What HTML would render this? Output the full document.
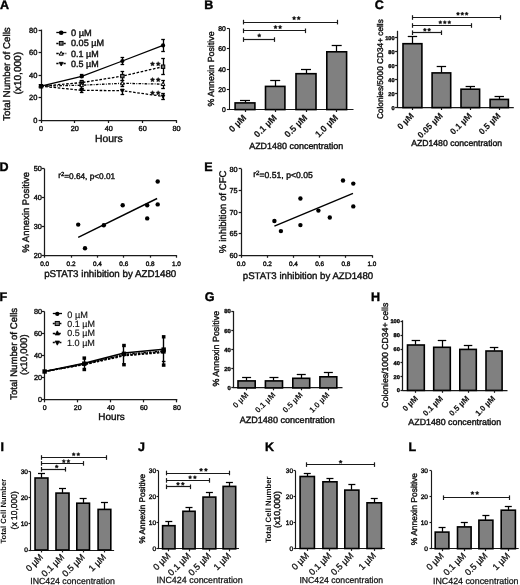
<!DOCTYPE html>
<html><head><meta charset="utf-8"><style>
html,body{margin:0;padding:0;background:#fff;}
svg{display:block;font-family:"Liberation Sans", sans-serif;filter:grayscale(1);text-rendering:geometricPrecision;}
</style></head><body>
<svg width="520" height="585" viewBox="0 0 520 585">
<rect width="520" height="585" fill="#fff"/>
<text font-size="12.500" transform="translate(-0.04,8.60)" font-weight="bold" fill="#000" stroke="#000" stroke-width="0.4">A</text>
<line x1="41.50" y1="29.60" x2="41.50" y2="121.12" stroke="#1a1a1a" stroke-width="1.25" stroke-linecap="butt"/>
<line x1="38.60" y1="120.50" x2="41.50" y2="120.50" stroke="#1a1a1a" stroke-width="1.25" stroke-linecap="butt"/>
<line x1="38.60" y1="97.50" x2="41.50" y2="97.50" stroke="#1a1a1a" stroke-width="1.25" stroke-linecap="butt"/>
<line x1="38.60" y1="75.50" x2="41.50" y2="75.50" stroke="#1a1a1a" stroke-width="1.25" stroke-linecap="butt"/>
<line x1="38.60" y1="52.50" x2="41.50" y2="52.50" stroke="#1a1a1a" stroke-width="1.25" stroke-linecap="butt"/>
<line x1="38.60" y1="30.50" x2="41.50" y2="30.50" stroke="#1a1a1a" stroke-width="1.25" stroke-linecap="butt"/>
<line x1="41.00" y1="120.50" x2="176.80" y2="120.50" stroke="#1a1a1a" stroke-width="1.25" stroke-linecap="butt"/>
<text font-size="7.500" transform="translate(33.24,122.80) scale(1.000,1)" fill="#111" stroke="#111" stroke-width="0.4">0</text>
<text font-size="7.500" transform="translate(29.08,100.30) scale(1.000,1)" fill="#111" stroke="#111" stroke-width="0.4">20</text>
<text font-size="7.500" transform="translate(29.08,77.80) scale(1.000,1)" fill="#111" stroke="#111" stroke-width="0.4">40</text>
<text font-size="7.500" transform="translate(29.08,55.30) scale(1.000,1)" fill="#111" stroke="#111" stroke-width="0.4">60</text>
<text font-size="7.500" transform="translate(29.08,32.80) scale(1.000,1)" fill="#111" stroke="#111" stroke-width="0.4">80</text>
<line x1="41.50" y1="120.20" x2="41.50" y2="123.00" stroke="#1a1a1a" stroke-width="1.25" stroke-linecap="butt"/>
<text font-size="7.300" transform="translate(38.97,130.80) scale(1.000,1)" fill="#111" stroke="#111" stroke-width="0.4">0</text>
<line x1="74.50" y1="120.20" x2="74.50" y2="123.00" stroke="#1a1a1a" stroke-width="1.25" stroke-linecap="butt"/>
<text font-size="7.300" transform="translate(70.81,130.80) scale(1.000,1)" fill="#111" stroke="#111" stroke-width="0.4">20</text>
<line x1="108.50" y1="120.20" x2="108.50" y2="123.00" stroke="#1a1a1a" stroke-width="1.25" stroke-linecap="butt"/>
<text font-size="7.300" transform="translate(104.80,130.80) scale(1.000,1)" fill="#111" stroke="#111" stroke-width="0.4">40</text>
<line x1="142.50" y1="120.20" x2="142.50" y2="123.00" stroke="#1a1a1a" stroke-width="1.25" stroke-linecap="butt"/>
<text font-size="7.300" transform="translate(138.61,130.80) scale(1.000,1)" fill="#111" stroke="#111" stroke-width="0.4">60</text>
<line x1="176.50" y1="120.20" x2="176.50" y2="123.00" stroke="#1a1a1a" stroke-width="1.25" stroke-linecap="butt"/>
<text font-size="7.300" transform="translate(172.53,130.80) scale(1.000,1)" fill="#111" stroke="#111" stroke-width="0.4">80</text>
<text font-size="10.372" transform="translate(94.97,141.68) scale(1.0000,1)" fill="#111" stroke="#111" stroke-width="0.4">Hours</text>
<text font-size="9.795" transform="translate(10.05,120.80) rotate(-90) scale(1.0000,1)" fill="#111" stroke="#111" stroke-width="0.4">Total Number of Cells</text>
<text font-size="10.098" transform="translate(20.70,94.51) rotate(-90) scale(1.0000,1)" fill="#111" stroke="#111" stroke-width="0.4">(x10,000)</text>
<line x1="56.30" y1="32.50" x2="66.40" y2="32.50" stroke="#000" stroke-width="1.3" stroke-linecap="butt"/>
<circle cx="61.20" cy="32.80" r="2.3100000000000005" fill="#000" stroke="none" stroke-width="1"/>
<text font-size="9.245" transform="translate(71.03,36.04) scale(1.0000,1)" fill="#111" stroke="#111" stroke-width="0.4">0 µM</text>
<line x1="56.30" y1="43.50" x2="66.40" y2="43.50" stroke="#000" stroke-width="1.3" stroke-linecap="butt" stroke-dasharray="2.2,1.4"/>
<rect x="59.35" y="41.45" width="3.70" height="3.70" fill="#777" stroke="#000" stroke-width="1.0"/>
<text font-size="9.088" transform="translate(71.04,46.48) scale(1.0000,1)" fill="#111" stroke="#111" stroke-width="0.4">0.05 µM</text>
<line x1="56.30" y1="53.50" x2="66.40" y2="53.50" stroke="#000" stroke-width="1.3" stroke-linecap="butt" stroke-dasharray="2.4,1.2,0.8,1.2"/>
<polygon points="61.20,51.47 63.23,55.17 59.17,55.17" fill="#fff" stroke="#000" stroke-width="1.0"/>
<text font-size="8.968" transform="translate(71.04,56.74) scale(1.0000,1)" fill="#111" stroke="#111" stroke-width="0.4">0.1 µM</text>
<line x1="56.30" y1="63.50" x2="66.40" y2="63.50" stroke="#000" stroke-width="1.3" stroke-linecap="butt" stroke-dasharray="2.2,1.4"/>
<polygon points="61.20,66.03 63.23,62.33 59.17,62.33" fill="#000" stroke="#000" stroke-width="0.8"/>
<text font-size="8.968" transform="translate(71.04,67.04) scale(1.0000,1)" fill="#111" stroke="#111" stroke-width="0.4">0.5 µM</text>
<polyline points="41.00,86.20 81.68,76.30 122.36,61.00 163.04,45.40" fill="none" stroke="#000" stroke-width="1.3"/>
<polyline points="41.00,86.20 81.68,82.60 122.36,76.10 163.04,66.70" fill="none" stroke="#000" stroke-width="1.3" stroke-dasharray="2.6,1.6"/>
<polyline points="41.00,86.20 81.68,85.20 122.36,83.30 163.04,84.10" fill="none" stroke="#000" stroke-width="1.3" stroke-dasharray="2.6,1.3,0.9,1.3"/>
<polyline points="41.00,86.20 81.68,90.30 122.36,90.70 163.04,96.40" fill="none" stroke="#000" stroke-width="1.3" stroke-dasharray="2.6,1.6"/>
<circle cx="41.00" cy="86.20" r="2.1" fill="#000" stroke="none" stroke-width="1"/>
<line x1="81.50" y1="74.80" x2="81.50" y2="77.80" stroke="#000" stroke-width="1.3" stroke-linecap="butt"/>
<line x1="79.88" y1="74.50" x2="83.48" y2="74.50" stroke="#000" stroke-width="1.3" stroke-linecap="butt"/>
<line x1="79.88" y1="77.50" x2="83.48" y2="77.50" stroke="#000" stroke-width="1.3" stroke-linecap="butt"/>
<circle cx="81.68" cy="76.30" r="2.1" fill="#000" stroke="none" stroke-width="1"/>
<line x1="122.50" y1="57.50" x2="122.50" y2="64.40" stroke="#000" stroke-width="1.3" stroke-linecap="butt"/>
<line x1="120.56" y1="57.50" x2="124.16" y2="57.50" stroke="#000" stroke-width="1.3" stroke-linecap="butt"/>
<line x1="120.56" y1="64.50" x2="124.16" y2="64.50" stroke="#000" stroke-width="1.3" stroke-linecap="butt"/>
<circle cx="122.36" cy="61.00" r="2.1" fill="#000" stroke="none" stroke-width="1"/>
<line x1="163.50" y1="39.60" x2="163.50" y2="51.90" stroke="#000" stroke-width="1.3" stroke-linecap="butt"/>
<line x1="161.24" y1="39.50" x2="164.84" y2="39.50" stroke="#000" stroke-width="1.3" stroke-linecap="butt"/>
<line x1="161.24" y1="51.50" x2="164.84" y2="51.50" stroke="#000" stroke-width="1.3" stroke-linecap="butt"/>
<circle cx="163.04" cy="45.40" r="2.1" fill="#000" stroke="none" stroke-width="1"/>
<rect x="39.30" y="84.50" width="3.40" height="3.40" fill="#777" stroke="#000" stroke-width="1.0"/>
<line x1="81.50" y1="80.80" x2="81.50" y2="84.60" stroke="#000" stroke-width="1.3" stroke-linecap="butt"/>
<line x1="79.88" y1="80.50" x2="83.48" y2="80.50" stroke="#000" stroke-width="1.3" stroke-linecap="butt"/>
<line x1="79.88" y1="84.50" x2="83.48" y2="84.50" stroke="#000" stroke-width="1.3" stroke-linecap="butt"/>
<rect x="79.98" y="80.90" width="3.40" height="3.40" fill="#777" stroke="#000" stroke-width="1.0"/>
<line x1="122.50" y1="71.90" x2="122.50" y2="80.20" stroke="#000" stroke-width="1.3" stroke-linecap="butt"/>
<line x1="120.56" y1="71.50" x2="124.16" y2="71.50" stroke="#000" stroke-width="1.3" stroke-linecap="butt"/>
<line x1="120.56" y1="80.50" x2="124.16" y2="80.50" stroke="#000" stroke-width="1.3" stroke-linecap="butt"/>
<rect x="120.66" y="74.40" width="3.40" height="3.40" fill="#777" stroke="#000" stroke-width="1.0"/>
<line x1="163.50" y1="58.80" x2="163.50" y2="74.50" stroke="#000" stroke-width="1.3" stroke-linecap="butt"/>
<line x1="161.24" y1="58.50" x2="164.84" y2="58.50" stroke="#000" stroke-width="1.3" stroke-linecap="butt"/>
<line x1="161.24" y1="74.50" x2="164.84" y2="74.50" stroke="#000" stroke-width="1.3" stroke-linecap="butt"/>
<rect x="161.34" y="65.00" width="3.40" height="3.40" fill="#777" stroke="#000" stroke-width="1.0"/>
<polygon points="41.00,84.25 42.87,87.64 39.13,87.64" fill="#fff" stroke="#000" stroke-width="1.0"/>
<line x1="81.50" y1="82.50" x2="81.50" y2="88.00" stroke="#000" stroke-width="1.3" stroke-linecap="butt"/>
<line x1="79.88" y1="82.50" x2="83.48" y2="82.50" stroke="#000" stroke-width="1.3" stroke-linecap="butt"/>
<line x1="79.88" y1="88.50" x2="83.48" y2="88.50" stroke="#000" stroke-width="1.3" stroke-linecap="butt"/>
<polygon points="81.68,83.25 83.55,86.64 79.81,86.64" fill="#fff" stroke="#000" stroke-width="1.0"/>
<line x1="122.50" y1="80.50" x2="122.50" y2="86.50" stroke="#000" stroke-width="1.3" stroke-linecap="butt"/>
<line x1="120.56" y1="80.50" x2="124.16" y2="80.50" stroke="#000" stroke-width="1.3" stroke-linecap="butt"/>
<line x1="120.56" y1="86.50" x2="124.16" y2="86.50" stroke="#000" stroke-width="1.3" stroke-linecap="butt"/>
<polygon points="122.36,81.34 124.23,84.74 120.49,84.74" fill="#fff" stroke="#000" stroke-width="1.0"/>
<line x1="163.50" y1="80.40" x2="163.50" y2="88.60" stroke="#000" stroke-width="1.3" stroke-linecap="butt"/>
<line x1="161.24" y1="80.50" x2="164.84" y2="80.50" stroke="#000" stroke-width="1.3" stroke-linecap="butt"/>
<line x1="161.24" y1="88.50" x2="164.84" y2="88.50" stroke="#000" stroke-width="1.3" stroke-linecap="butt"/>
<polygon points="163.04,82.14 164.91,85.54 161.17,85.54" fill="#fff" stroke="#000" stroke-width="1.0"/>
<polygon points="41.00,88.16 42.87,84.76 39.13,84.76" fill="#000" stroke="#000" stroke-width="0.8"/>
<line x1="81.50" y1="88.50" x2="81.50" y2="92.40" stroke="#000" stroke-width="1.3" stroke-linecap="butt"/>
<line x1="79.88" y1="88.50" x2="83.48" y2="88.50" stroke="#000" stroke-width="1.3" stroke-linecap="butt"/>
<line x1="79.88" y1="92.50" x2="83.48" y2="92.50" stroke="#000" stroke-width="1.3" stroke-linecap="butt"/>
<polygon points="81.68,92.25 83.55,88.86 79.81,88.86" fill="#000" stroke="#000" stroke-width="0.8"/>
<line x1="122.50" y1="89.00" x2="122.50" y2="94.40" stroke="#000" stroke-width="1.3" stroke-linecap="butt"/>
<line x1="120.56" y1="89.50" x2="124.16" y2="89.50" stroke="#000" stroke-width="1.3" stroke-linecap="butt"/>
<line x1="120.56" y1="94.50" x2="124.16" y2="94.50" stroke="#000" stroke-width="1.3" stroke-linecap="butt"/>
<polygon points="122.36,92.66 124.23,89.26 120.49,89.26" fill="#000" stroke="#000" stroke-width="0.8"/>
<line x1="163.50" y1="93.70" x2="163.50" y2="99.90" stroke="#000" stroke-width="1.3" stroke-linecap="butt"/>
<line x1="161.24" y1="93.50" x2="164.84" y2="93.50" stroke="#000" stroke-width="1.3" stroke-linecap="butt"/>
<line x1="161.24" y1="99.50" x2="164.84" y2="99.50" stroke="#000" stroke-width="1.3" stroke-linecap="butt"/>
<polygon points="163.04,98.36 164.91,94.96 161.17,94.96" fill="#000" stroke="#000" stroke-width="0.8"/>
<polygon points="152.50,61.63 153.24,62.91 154.69,63.22 153.70,64.32 153.85,65.79 152.50,65.20 151.15,65.79 151.30,64.32 150.31,63.22 151.76,62.91" fill="#111" stroke="#111" stroke-width="0.45"/>
<polygon points="158.20,61.63 158.94,62.91 160.39,63.22 159.40,64.32 159.55,65.79 158.20,65.20 156.85,65.79 157.00,64.32 156.01,63.22 157.46,62.91" fill="#111" stroke="#111" stroke-width="0.45"/>
<polygon points="152.50,77.53 153.24,78.81 154.69,79.12 153.70,80.22 153.85,81.69 152.50,81.09 151.15,81.69 151.30,80.22 150.31,79.12 151.76,78.81" fill="#111" stroke="#111" stroke-width="0.45"/>
<polygon points="158.20,77.53 158.94,78.81 160.39,79.12 159.40,80.22 159.55,81.69 158.20,81.09 156.85,81.69 157.00,80.22 156.01,79.12 157.46,78.81" fill="#111" stroke="#111" stroke-width="0.45"/>
<polygon points="152.50,90.63 153.24,91.91 154.69,92.22 153.70,93.32 153.85,94.79 152.50,94.20 151.15,94.79 151.30,93.32 150.31,92.22 151.76,91.91" fill="#111" stroke="#111" stroke-width="0.45"/>
<polygon points="158.20,90.63 158.94,91.91 160.39,92.22 159.40,93.32 159.55,94.79 158.20,94.20 156.85,94.79 157.00,93.32 156.01,92.22 157.46,91.91" fill="#111" stroke="#111" stroke-width="0.45"/>
<text font-size="12.500" transform="translate(204.19,8.60)" font-weight="bold" fill="#000" stroke="#000" stroke-width="0.4">B</text>
<line x1="229.50" y1="28.50" x2="229.50" y2="110.05" stroke="#1a1a1a" stroke-width="1.1" stroke-linecap="butt"/>
<line x1="226.90" y1="109.50" x2="229.50" y2="109.50" stroke="#1a1a1a" stroke-width="1.1" stroke-linecap="butt"/>
<line x1="226.90" y1="89.50" x2="229.50" y2="89.50" stroke="#1a1a1a" stroke-width="1.1" stroke-linecap="butt"/>
<line x1="226.90" y1="69.50" x2="229.50" y2="69.50" stroke="#1a1a1a" stroke-width="1.1" stroke-linecap="butt"/>
<line x1="226.90" y1="48.50" x2="229.50" y2="48.50" stroke="#1a1a1a" stroke-width="1.1" stroke-linecap="butt"/>
<line x1="226.90" y1="28.50" x2="229.50" y2="28.50" stroke="#1a1a1a" stroke-width="1.1" stroke-linecap="butt"/>
<line x1="229.30" y1="109.50" x2="353.50" y2="109.50" stroke="#1a1a1a" stroke-width="1.15" stroke-linecap="butt"/>
<text font-size="6.800" transform="translate(222.00,112.10) scale(1.000,1)" fill="#111" stroke="#111" stroke-width="0.4">0</text>
<text font-size="6.800" transform="translate(218.22,91.80) scale(1.000,1)" fill="#111" stroke="#111" stroke-width="0.4">20</text>
<text font-size="6.800" transform="translate(218.22,71.50) scale(1.000,1)" fill="#111" stroke="#111" stroke-width="0.4">40</text>
<text font-size="6.800" transform="translate(218.22,51.20) scale(1.000,1)" fill="#111" stroke="#111" stroke-width="0.4">60</text>
<text font-size="6.800" transform="translate(218.22,30.90) scale(1.000,1)" fill="#111" stroke="#111" stroke-width="0.4">80</text>
<line x1="245.50" y1="100.60" x2="245.50" y2="102.60" stroke="#000" stroke-width="1.25" stroke-linecap="butt"/>
<line x1="240.00" y1="100.50" x2="250.00" y2="100.50" stroke="#000" stroke-width="1.25" stroke-linecap="butt"/>
<rect x="235.10" y="102.90" width="19.80" height="6.70" fill="#808080" stroke="#000" stroke-width="1.6"/>
<line x1="245.50" y1="109.60" x2="245.50" y2="112.00" stroke="#1a1a1a" stroke-width="1.2" stroke-linecap="butt"/>
<line x1="275.50" y1="80.80" x2="275.50" y2="86.10" stroke="#000" stroke-width="1.25" stroke-linecap="butt"/>
<line x1="270.20" y1="80.50" x2="280.20" y2="80.50" stroke="#000" stroke-width="1.25" stroke-linecap="butt"/>
<rect x="265.50" y="86.40" width="19.40" height="23.20" fill="#808080" stroke="#000" stroke-width="1.6"/>
<line x1="275.50" y1="109.60" x2="275.50" y2="112.00" stroke="#1a1a1a" stroke-width="1.2" stroke-linecap="butt"/>
<line x1="306.50" y1="69.40" x2="306.50" y2="73.40" stroke="#000" stroke-width="1.25" stroke-linecap="butt"/>
<line x1="301.00" y1="69.50" x2="311.00" y2="69.50" stroke="#000" stroke-width="1.25" stroke-linecap="butt"/>
<rect x="296.00" y="73.70" width="20.00" height="35.90" fill="#808080" stroke="#000" stroke-width="1.6"/>
<line x1="306.50" y1="109.60" x2="306.50" y2="112.00" stroke="#1a1a1a" stroke-width="1.2" stroke-linecap="butt"/>
<line x1="336.50" y1="45.80" x2="336.50" y2="51.50" stroke="#000" stroke-width="1.25" stroke-linecap="butt"/>
<line x1="331.70" y1="45.50" x2="341.70" y2="45.50" stroke="#000" stroke-width="1.25" stroke-linecap="butt"/>
<rect x="326.80" y="51.80" width="19.80" height="57.80" fill="#808080" stroke="#000" stroke-width="1.6"/>
<line x1="336.50" y1="109.60" x2="336.50" y2="112.00" stroke="#1a1a1a" stroke-width="1.2" stroke-linecap="butt"/>
<line x1="243.60" y1="22.50" x2="337.70" y2="22.50" stroke="#1a1a1a" stroke-width="1.2" stroke-linecap="butt"/>
<line x1="243.50" y1="19.80" x2="243.50" y2="24.40" stroke="#1a1a1a" stroke-width="1.2" stroke-linecap="butt"/>
<line x1="337.50" y1="19.80" x2="337.50" y2="24.40" stroke="#1a1a1a" stroke-width="1.2" stroke-linecap="butt"/>
<line x1="243.60" y1="30.50" x2="305.70" y2="30.50" stroke="#1a1a1a" stroke-width="1.2" stroke-linecap="butt"/>
<line x1="243.50" y1="28.50" x2="243.50" y2="33.10" stroke="#1a1a1a" stroke-width="1.2" stroke-linecap="butt"/>
<line x1="305.50" y1="28.50" x2="305.50" y2="33.10" stroke="#1a1a1a" stroke-width="1.2" stroke-linecap="butt"/>
<line x1="243.60" y1="39.50" x2="274.30" y2="39.50" stroke="#1a1a1a" stroke-width="1.2" stroke-linecap="butt"/>
<line x1="243.50" y1="37.30" x2="243.50" y2="41.90" stroke="#1a1a1a" stroke-width="1.2" stroke-linecap="butt"/>
<line x1="274.50" y1="37.30" x2="274.50" y2="41.90" stroke="#1a1a1a" stroke-width="1.2" stroke-linecap="butt"/>
<polygon points="294.10,16.29 294.71,17.34 295.91,17.60 295.09,18.51 295.22,19.73 294.10,19.24 292.98,19.73 293.11,18.51 292.29,17.60 293.49,17.34" fill="#111" stroke="#111" stroke-width="0.45"/>
<polygon points="298.70,16.29 299.31,17.34 300.51,17.60 299.69,18.51 299.82,19.73 298.70,19.24 297.58,19.73 297.71,18.51 296.89,17.60 298.09,17.34" fill="#111" stroke="#111" stroke-width="0.45"/>
<polygon points="275.50,25.19 276.11,26.24 277.31,26.50 276.49,27.41 276.62,28.63 275.50,28.14 274.38,28.63 274.51,27.41 273.69,26.50 274.89,26.24" fill="#111" stroke="#111" stroke-width="0.45"/>
<polygon points="280.10,25.19 280.71,26.24 281.91,26.50 281.09,27.41 281.22,28.63 280.10,28.14 278.98,28.63 279.11,27.41 278.29,26.50 279.49,26.24" fill="#111" stroke="#111" stroke-width="0.45"/>
<polygon points="259.25,33.59 259.86,34.64 261.06,34.90 260.24,35.81 260.37,37.03 259.25,36.53 258.13,37.03 258.26,35.81 257.44,34.90 258.64,34.64" fill="#111" stroke="#111" stroke-width="0.45"/>
<text font-size="8.831" transform="translate(213.81,106.51) rotate(-90) scale(1.0000,1)" fill="#111" stroke="#111" stroke-width="0.4">% Annexin Positive</text>
<text font-size="9.100" transform="translate(246.90,118.30) rotate(-45)" font-weight="bold" text-anchor="end" fill="#111" stroke="#111" stroke-width="0.1">0 µM</text>
<text font-size="9.100" transform="translate(277.40,118.30) rotate(-45)" font-weight="bold" text-anchor="end" fill="#111" stroke="#111" stroke-width="0.1">0.1 µM</text>
<text font-size="9.100" transform="translate(307.90,118.30) rotate(-45)" font-weight="bold" text-anchor="end" fill="#111" stroke="#111" stroke-width="0.1">0.5 µM</text>
<text font-size="9.100" transform="translate(338.50,118.30) rotate(-45)" font-weight="bold" text-anchor="end" fill="#111" stroke="#111" stroke-width="0.1">1.0 µM</text>
<text font-size="8.960" transform="translate(249.16,149.05) scale(1.0000,1)" fill="#111" stroke="#111" stroke-width="0.4">AZD1480 concentration</text>
<text font-size="12.500" transform="translate(374.70,8.60)" font-weight="bold" fill="#000" stroke="#000" stroke-width="0.4">C</text>
<line x1="397.50" y1="30.80" x2="397.50" y2="108.12" stroke="#1a1a1a" stroke-width="1.25" stroke-linecap="butt"/>
<line x1="395.10" y1="107.50" x2="397.50" y2="107.50" stroke="#1a1a1a" stroke-width="1.25" stroke-linecap="butt"/>
<line x1="395.10" y1="93.50" x2="397.50" y2="93.50" stroke="#1a1a1a" stroke-width="1.25" stroke-linecap="butt"/>
<line x1="395.10" y1="79.50" x2="397.50" y2="79.50" stroke="#1a1a1a" stroke-width="1.25" stroke-linecap="butt"/>
<line x1="395.10" y1="65.50" x2="397.50" y2="65.50" stroke="#1a1a1a" stroke-width="1.25" stroke-linecap="butt"/>
<line x1="395.10" y1="51.50" x2="397.50" y2="51.50" stroke="#1a1a1a" stroke-width="1.25" stroke-linecap="butt"/>
<line x1="395.10" y1="37.50" x2="397.50" y2="37.50" stroke="#1a1a1a" stroke-width="1.25" stroke-linecap="butt"/>
<line x1="397.90" y1="107.50" x2="513.80" y2="107.50" stroke="#1a1a1a" stroke-width="1.25" stroke-linecap="butt"/>
<text font-size="5.600" transform="translate(391.42,109.60) scale(1.000,1)" font-weight="bold" fill="#111" stroke="#111" stroke-width="0.4">0</text>
<text font-size="5.600" transform="translate(388.31,95.58) scale(1.000,1)" font-weight="bold" fill="#111" stroke="#111" stroke-width="0.4">20</text>
<text font-size="5.600" transform="translate(388.31,81.56) scale(1.000,1)" font-weight="bold" fill="#111" stroke="#111" stroke-width="0.4">40</text>
<text font-size="5.600" transform="translate(388.31,67.54) scale(1.000,1)" font-weight="bold" fill="#111" stroke="#111" stroke-width="0.4">60</text>
<text font-size="5.600" transform="translate(388.31,53.52) scale(1.000,1)" font-weight="bold" fill="#111" stroke="#111" stroke-width="0.4">80</text>
<text font-size="5.600" transform="translate(385.20,39.50) scale(1.000,1)" font-weight="bold" fill="#111" stroke="#111" stroke-width="0.4">100</text>
<line x1="412.50" y1="36.70" x2="412.50" y2="43.40" stroke="#000" stroke-width="1.25" stroke-linecap="butt"/>
<line x1="407.75" y1="36.50" x2="417.15" y2="36.50" stroke="#000" stroke-width="1.25" stroke-linecap="butt"/>
<rect x="403.00" y="43.70" width="18.90" height="63.90" fill="#808080" stroke="#000" stroke-width="1.6"/>
<line x1="412.50" y1="107.60" x2="412.50" y2="110.00" stroke="#1a1a1a" stroke-width="1.2" stroke-linecap="butt"/>
<line x1="441.50" y1="66.90" x2="441.50" y2="72.60" stroke="#000" stroke-width="1.25" stroke-linecap="butt"/>
<line x1="436.70" y1="66.50" x2="446.10" y2="66.50" stroke="#000" stroke-width="1.25" stroke-linecap="butt"/>
<rect x="432.10" y="72.90" width="18.60" height="34.70" fill="#808080" stroke="#000" stroke-width="1.6"/>
<line x1="441.50" y1="107.60" x2="441.50" y2="110.00" stroke="#1a1a1a" stroke-width="1.2" stroke-linecap="butt"/>
<line x1="470.50" y1="86.10" x2="470.50" y2="88.90" stroke="#000" stroke-width="1.25" stroke-linecap="butt"/>
<line x1="465.60" y1="86.50" x2="475.00" y2="86.50" stroke="#000" stroke-width="1.25" stroke-linecap="butt"/>
<rect x="461.00" y="89.20" width="18.60" height="18.40" fill="#808080" stroke="#000" stroke-width="1.6"/>
<line x1="470.50" y1="107.60" x2="470.50" y2="110.00" stroke="#1a1a1a" stroke-width="1.2" stroke-linecap="butt"/>
<line x1="499.50" y1="96.80" x2="499.50" y2="99.10" stroke="#000" stroke-width="1.25" stroke-linecap="butt"/>
<line x1="494.55" y1="96.50" x2="503.95" y2="96.50" stroke="#000" stroke-width="1.25" stroke-linecap="butt"/>
<rect x="490.10" y="99.40" width="18.30" height="8.20" fill="#808080" stroke="#000" stroke-width="1.6"/>
<line x1="499.50" y1="107.60" x2="499.50" y2="110.00" stroke="#1a1a1a" stroke-width="1.2" stroke-linecap="butt"/>
<line x1="412.20" y1="17.50" x2="500.90" y2="17.50" stroke="#1a1a1a" stroke-width="1.2" stroke-linecap="butt"/>
<line x1="412.50" y1="15.20" x2="412.50" y2="19.80" stroke="#1a1a1a" stroke-width="1.2" stroke-linecap="butt"/>
<line x1="500.50" y1="15.20" x2="500.50" y2="19.80" stroke="#1a1a1a" stroke-width="1.2" stroke-linecap="butt"/>
<line x1="412.20" y1="25.50" x2="471.00" y2="25.50" stroke="#1a1a1a" stroke-width="1.2" stroke-linecap="butt"/>
<line x1="412.50" y1="23.20" x2="412.50" y2="27.80" stroke="#1a1a1a" stroke-width="1.2" stroke-linecap="butt"/>
<line x1="471.50" y1="23.20" x2="471.50" y2="27.80" stroke="#1a1a1a" stroke-width="1.2" stroke-linecap="butt"/>
<line x1="412.20" y1="32.50" x2="441.70" y2="32.50" stroke="#1a1a1a" stroke-width="1.2" stroke-linecap="butt"/>
<line x1="412.50" y1="30.40" x2="412.50" y2="35.00" stroke="#1a1a1a" stroke-width="1.2" stroke-linecap="butt"/>
<line x1="441.50" y1="30.40" x2="441.50" y2="35.00" stroke="#1a1a1a" stroke-width="1.2" stroke-linecap="butt"/>
<polygon points="458.00,11.98 458.58,12.98 459.71,13.22 458.94,14.09 459.06,15.24 458.00,14.77 456.94,15.24 457.06,14.09 456.29,13.22 457.42,12.98" fill="#111" stroke="#111" stroke-width="0.45"/>
<polygon points="462.30,11.98 462.88,12.98 464.01,13.22 463.24,14.09 463.36,15.24 462.30,14.77 461.24,15.24 461.36,14.09 460.59,13.22 461.72,12.98" fill="#111" stroke="#111" stroke-width="0.45"/>
<polygon points="466.60,11.98 467.18,12.98 468.31,13.22 467.54,14.09 467.66,15.24 466.60,14.77 465.54,15.24 465.66,14.09 464.89,13.22 466.02,12.98" fill="#111" stroke="#111" stroke-width="0.45"/>
<polygon points="440.30,20.58 440.88,21.58 442.01,21.82 441.24,22.69 441.36,23.84 440.30,23.37 439.24,23.84 439.36,22.69 438.59,21.82 439.72,21.58" fill="#111" stroke="#111" stroke-width="0.45"/>
<polygon points="444.80,20.58 445.38,21.58 446.51,21.82 445.74,22.69 445.86,23.84 444.80,23.37 443.74,23.84 443.86,22.69 443.09,21.82 444.22,21.58" fill="#111" stroke="#111" stroke-width="0.45"/>
<polygon points="449.30,20.58 449.88,21.58 451.01,21.82 450.24,22.69 450.36,23.84 449.30,23.37 448.24,23.84 448.36,22.69 447.59,21.82 448.72,21.58" fill="#111" stroke="#111" stroke-width="0.45"/>
<polygon points="424.85,27.98 425.43,28.98 426.56,29.22 425.79,30.09 425.91,31.24 424.85,30.77 423.79,31.24 423.91,30.09 423.14,29.22 424.27,28.98" fill="#111" stroke="#111" stroke-width="0.45"/>
<polygon points="429.15,27.98 429.73,28.98 430.86,29.22 430.09,30.09 430.21,31.24 429.15,30.77 428.09,31.24 428.21,30.09 427.44,29.22 428.57,28.98" fill="#111" stroke="#111" stroke-width="0.45"/>
<text font-size="8.272" transform="translate(382.51,119.11) rotate(-90) scale(1.0000,1)" fill="#111" stroke="#111" stroke-width="0.4">Colonies/5000 CD34+ cells</text>
<text font-size="8.600" transform="translate(414.30,116.40) rotate(-45)" font-weight="bold" text-anchor="end" fill="#111" stroke="#111" stroke-width="0.1">0 µM</text>
<text font-size="8.600" transform="translate(443.20,116.40) rotate(-45)" font-weight="bold" text-anchor="end" fill="#111" stroke="#111" stroke-width="0.1">0.05 µM</text>
<text font-size="8.600" transform="translate(472.30,116.40) rotate(-45)" font-weight="bold" text-anchor="end" fill="#111" stroke="#111" stroke-width="0.1">0.1 µM</text>
<text font-size="8.600" transform="translate(501.00,116.40) rotate(-45)" font-weight="bold" text-anchor="end" fill="#111" stroke="#111" stroke-width="0.1">0.5 µM</text>
<text font-size="8.663" transform="translate(411.16,145.84) scale(1.0000,1)" fill="#111" stroke="#111" stroke-width="0.4">AZD1480 concentration</text>
<text font-size="12.500" transform="translate(-0.60,170.70)" font-weight="bold" fill="#000" stroke="#000" stroke-width="0.4">D</text>
<line x1="44.50" y1="168.70" x2="44.50" y2="256.12" stroke="#1a1a1a" stroke-width="1.25" stroke-linecap="butt"/>
<line x1="41.70" y1="255.50" x2="44.50" y2="255.50" stroke="#1a1a1a" stroke-width="1.25" stroke-linecap="butt"/>
<line x1="41.70" y1="226.50" x2="44.50" y2="226.50" stroke="#1a1a1a" stroke-width="1.25" stroke-linecap="butt"/>
<line x1="41.70" y1="197.50" x2="44.50" y2="197.50" stroke="#1a1a1a" stroke-width="1.25" stroke-linecap="butt"/>
<line x1="41.70" y1="168.50" x2="44.50" y2="168.50" stroke="#1a1a1a" stroke-width="1.25" stroke-linecap="butt"/>
<line x1="44.60" y1="255.50" x2="176.60" y2="255.50" stroke="#1a1a1a" stroke-width="1.25" stroke-linecap="butt"/>
<text font-size="7.300" transform="translate(33.79,257.70) scale(1.000,1)" fill="#111" stroke="#111" stroke-width="0.4">20</text>
<text font-size="7.300" transform="translate(33.79,228.90) scale(1.000,1)" fill="#111" stroke="#111" stroke-width="0.4">30</text>
<text font-size="7.300" transform="translate(33.79,200.10) scale(1.000,1)" fill="#111" stroke="#111" stroke-width="0.4">40</text>
<text font-size="7.300" transform="translate(33.79,171.30) scale(1.000,1)" fill="#111" stroke="#111" stroke-width="0.4">50</text>
<line x1="44.50" y1="255.10" x2="44.50" y2="257.70" stroke="#1a1a1a" stroke-width="1.25" stroke-linecap="butt"/>
<text font-size="6.400" transform="translate(40.15,265.60) scale(1.000,1)" fill="#111" stroke="#111" stroke-width="0.4">0.0</text>
<line x1="71.50" y1="255.10" x2="71.50" y2="257.70" stroke="#1a1a1a" stroke-width="1.25" stroke-linecap="butt"/>
<text font-size="6.400" transform="translate(66.58,265.60) scale(1.000,1)" fill="#111" stroke="#111" stroke-width="0.4">0.2</text>
<line x1="97.50" y1="255.10" x2="97.50" y2="257.70" stroke="#1a1a1a" stroke-width="1.25" stroke-linecap="butt"/>
<text font-size="6.400" transform="translate(92.92,265.60) scale(1.000,1)" fill="#111" stroke="#111" stroke-width="0.4">0.4</text>
<line x1="123.50" y1="255.10" x2="123.50" y2="257.70" stroke="#1a1a1a" stroke-width="1.25" stroke-linecap="butt"/>
<text font-size="6.400" transform="translate(119.37,265.60) scale(1.000,1)" fill="#111" stroke="#111" stroke-width="0.4">0.6</text>
<line x1="150.50" y1="255.10" x2="150.50" y2="257.70" stroke="#1a1a1a" stroke-width="1.25" stroke-linecap="butt"/>
<text font-size="6.400" transform="translate(145.75,265.60) scale(1.000,1)" fill="#111" stroke="#111" stroke-width="0.4">0.8</text>
<line x1="176.50" y1="255.10" x2="176.50" y2="257.70" stroke="#1a1a1a" stroke-width="1.25" stroke-linecap="butt"/>
<text font-size="6.400" transform="translate(172.04,265.60) scale(1.000,1)" fill="#111" stroke="#111" stroke-width="0.4">1.0</text>
<text font-size="9.519" transform="translate(29.15,252.73) rotate(-90) scale(1.0000,1)" fill="#111" stroke="#111" stroke-width="0.4">% Annexin Positive</text>
<text font-size="9.776" transform="translate(44.16,277.29) scale(1.0000,1)" fill="#111" stroke="#111" stroke-width="0.4">pSTAT3 inhibition by AZD1480</text>
<text font-size="8.243" transform="translate(58.21,178.14) scale(1.0000,1)" fill="#111" stroke="#111" stroke-width="0.4">r<tspan font-size="0.72em" dy="-0.4em">2</tspan><tspan dy="0.4em">=0.64, p&lt;0.01</tspan></text>
<circle cx="78.20" cy="224.60" r="2.2" fill="#000" stroke="none" stroke-width="1"/>
<circle cx="85.00" cy="248.30" r="2.2" fill="#000" stroke="none" stroke-width="1"/>
<circle cx="103.80" cy="225.20" r="2.2" fill="#000" stroke="none" stroke-width="1"/>
<circle cx="122.70" cy="205.20" r="2.2" fill="#000" stroke="none" stroke-width="1"/>
<circle cx="147.20" cy="205.20" r="2.2" fill="#000" stroke="none" stroke-width="1"/>
<circle cx="147.20" cy="218.40" r="2.2" fill="#000" stroke="none" stroke-width="1"/>
<circle cx="157.70" cy="181.50" r="2.2" fill="#000" stroke="none" stroke-width="1"/>
<circle cx="157.70" cy="204.40" r="2.2" fill="#000" stroke="none" stroke-width="1"/>
<line x1="78.20" y1="237.30" x2="157.10" y2="198.50" stroke="#000" stroke-width="1.4" stroke-linecap="butt"/>
<text font-size="12.500" transform="translate(204.19,170.90)" font-weight="bold" fill="#000" stroke="#000" stroke-width="0.4">E</text>
<line x1="241.50" y1="168.90" x2="241.50" y2="256.12" stroke="#1a1a1a" stroke-width="1.25" stroke-linecap="butt"/>
<line x1="238.70" y1="255.50" x2="241.50" y2="255.50" stroke="#1a1a1a" stroke-width="1.25" stroke-linecap="butt"/>
<line x1="238.70" y1="233.50" x2="241.50" y2="233.50" stroke="#1a1a1a" stroke-width="1.25" stroke-linecap="butt"/>
<line x1="238.70" y1="212.50" x2="241.50" y2="212.50" stroke="#1a1a1a" stroke-width="1.25" stroke-linecap="butt"/>
<line x1="238.70" y1="190.50" x2="241.50" y2="190.50" stroke="#1a1a1a" stroke-width="1.25" stroke-linecap="butt"/>
<line x1="238.70" y1="168.50" x2="241.50" y2="168.50" stroke="#1a1a1a" stroke-width="1.25" stroke-linecap="butt"/>
<line x1="241.10" y1="255.50" x2="372.10" y2="255.50" stroke="#1a1a1a" stroke-width="1.25" stroke-linecap="butt"/>
<text font-size="7.300" transform="translate(229.49,257.80) scale(1.000,1)" fill="#111" stroke="#111" stroke-width="0.4">60</text>
<text font-size="7.300" transform="translate(229.49,236.22) scale(1.000,1)" fill="#111" stroke="#111" stroke-width="0.4">65</text>
<text font-size="7.300" transform="translate(229.49,214.65) scale(1.000,1)" fill="#111" stroke="#111" stroke-width="0.4">70</text>
<text font-size="7.300" transform="translate(229.49,193.07) scale(1.000,1)" fill="#111" stroke="#111" stroke-width="0.4">75</text>
<text font-size="7.300" transform="translate(229.49,171.50) scale(1.000,1)" fill="#111" stroke="#111" stroke-width="0.4">80</text>
<line x1="241.50" y1="255.20" x2="241.50" y2="257.80" stroke="#1a1a1a" stroke-width="1.25" stroke-linecap="butt"/>
<text font-size="6.400" transform="translate(236.65,265.60) scale(1.000,1)" fill="#111" stroke="#111" stroke-width="0.4">0.0</text>
<line x1="267.50" y1="255.20" x2="267.50" y2="257.80" stroke="#1a1a1a" stroke-width="1.25" stroke-linecap="butt"/>
<text font-size="6.400" transform="translate(262.88,265.60) scale(1.000,1)" fill="#111" stroke="#111" stroke-width="0.4">0.2</text>
<line x1="293.50" y1="255.20" x2="293.50" y2="257.80" stroke="#1a1a1a" stroke-width="1.25" stroke-linecap="butt"/>
<text font-size="6.400" transform="translate(289.02,265.60) scale(1.000,1)" fill="#111" stroke="#111" stroke-width="0.4">0.4</text>
<line x1="319.50" y1="255.20" x2="319.50" y2="257.80" stroke="#1a1a1a" stroke-width="1.25" stroke-linecap="butt"/>
<text font-size="6.400" transform="translate(315.27,265.60) scale(1.000,1)" fill="#111" stroke="#111" stroke-width="0.4">0.6</text>
<line x1="345.50" y1="255.20" x2="345.50" y2="257.80" stroke="#1a1a1a" stroke-width="1.25" stroke-linecap="butt"/>
<text font-size="6.400" transform="translate(341.45,265.60) scale(1.000,1)" fill="#111" stroke="#111" stroke-width="0.4">0.8</text>
<line x1="372.50" y1="255.20" x2="372.50" y2="257.80" stroke="#1a1a1a" stroke-width="1.25" stroke-linecap="butt"/>
<text font-size="6.400" transform="translate(367.54,265.60) scale(1.000,1)" fill="#111" stroke="#111" stroke-width="0.4">1.0</text>
<text font-size="9.670" transform="translate(225.66,253.14) rotate(-90) scale(1.0000,1)" fill="#111" stroke="#111" stroke-width="0.4">% inhibition of CFC</text>
<text font-size="9.657" transform="translate(242.77,278.50) scale(1.0000,1)" fill="#111" stroke="#111" stroke-width="0.4">pSTAT3 inhibition by AZD1480</text>
<text font-size="8.648" transform="translate(253.19,177.33) scale(1.0000,1)" fill="#111" stroke="#111" stroke-width="0.4">r<tspan font-size="0.72em" dy="-0.4em">2</tspan><tspan dy="0.4em">=0.51, p&lt;0.05</tspan></text>
<circle cx="274.40" cy="221.00" r="2.2" fill="#000" stroke="none" stroke-width="1"/>
<circle cx="280.90" cy="231.10" r="2.2" fill="#000" stroke="none" stroke-width="1"/>
<circle cx="300.40" cy="198.50" r="2.2" fill="#000" stroke="none" stroke-width="1"/>
<circle cx="300.40" cy="225.10" r="2.2" fill="#000" stroke="none" stroke-width="1"/>
<circle cx="318.40" cy="210.60" r="2.2" fill="#000" stroke="none" stroke-width="1"/>
<circle cx="329.80" cy="217.50" r="2.2" fill="#000" stroke="none" stroke-width="1"/>
<circle cx="343.00" cy="180.50" r="2.2" fill="#000" stroke="none" stroke-width="1"/>
<circle cx="353.30" cy="183.60" r="2.2" fill="#000" stroke="none" stroke-width="1"/>
<circle cx="353.30" cy="206.40" r="2.2" fill="#000" stroke="none" stroke-width="1"/>
<line x1="274.40" y1="226.20" x2="353.00" y2="193.30" stroke="#000" stroke-width="1.4" stroke-linecap="butt"/>
<text font-size="12.500" transform="translate(-0.49,300.80)" font-weight="bold" fill="#000" stroke="#000" stroke-width="0.4">F</text>
<line x1="44.50" y1="311.50" x2="44.50" y2="400.12" stroke="#1a1a1a" stroke-width="1.25" stroke-linecap="butt"/>
<line x1="41.70" y1="399.50" x2="44.50" y2="399.50" stroke="#1a1a1a" stroke-width="1.25" stroke-linecap="butt"/>
<line x1="41.70" y1="377.50" x2="44.50" y2="377.50" stroke="#1a1a1a" stroke-width="1.25" stroke-linecap="butt"/>
<line x1="41.70" y1="355.50" x2="44.50" y2="355.50" stroke="#1a1a1a" stroke-width="1.25" stroke-linecap="butt"/>
<line x1="41.70" y1="333.50" x2="44.50" y2="333.50" stroke="#1a1a1a" stroke-width="1.25" stroke-linecap="butt"/>
<line x1="41.70" y1="311.50" x2="44.50" y2="311.50" stroke="#1a1a1a" stroke-width="1.25" stroke-linecap="butt"/>
<line x1="44.60" y1="399.50" x2="177.30" y2="399.50" stroke="#1a1a1a" stroke-width="1.25" stroke-linecap="butt"/>
<text font-size="7.300" transform="translate(38.04,402.10) scale(1.000,1)" fill="#111" stroke="#111" stroke-width="0.4">0</text>
<text font-size="7.300" transform="translate(33.99,380.10) scale(1.000,1)" fill="#111" stroke="#111" stroke-width="0.4">20</text>
<text font-size="7.300" transform="translate(33.99,358.10) scale(1.000,1)" fill="#111" stroke="#111" stroke-width="0.4">40</text>
<text font-size="7.300" transform="translate(33.99,336.10) scale(1.000,1)" fill="#111" stroke="#111" stroke-width="0.4">60</text>
<text font-size="7.300" transform="translate(33.99,314.10) scale(1.000,1)" fill="#111" stroke="#111" stroke-width="0.4">80</text>
<line x1="44.50" y1="399.50" x2="44.50" y2="402.30" stroke="#1a1a1a" stroke-width="1.25" stroke-linecap="butt"/>
<text font-size="7.000" transform="translate(42.66,410.10) scale(1.000,1)" fill="#111" stroke="#111" stroke-width="0.4">0</text>
<line x1="77.50" y1="399.50" x2="77.50" y2="402.30" stroke="#1a1a1a" stroke-width="1.25" stroke-linecap="butt"/>
<text font-size="7.000" transform="translate(73.76,410.10) scale(1.000,1)" fill="#111" stroke="#111" stroke-width="0.4">20</text>
<line x1="110.50" y1="399.50" x2="110.50" y2="402.30" stroke="#1a1a1a" stroke-width="1.25" stroke-linecap="butt"/>
<text font-size="7.000" transform="translate(106.92,410.10) scale(1.000,1)" fill="#111" stroke="#111" stroke-width="0.4">40</text>
<line x1="143.50" y1="399.50" x2="143.50" y2="402.30" stroke="#1a1a1a" stroke-width="1.25" stroke-linecap="butt"/>
<text font-size="7.000" transform="translate(139.91,410.10) scale(1.000,1)" fill="#111" stroke="#111" stroke-width="0.4">60</text>
<line x1="176.50" y1="399.50" x2="176.50" y2="402.30" stroke="#1a1a1a" stroke-width="1.25" stroke-linecap="butt"/>
<text font-size="7.000" transform="translate(173.00,410.10) scale(1.000,1)" fill="#111" stroke="#111" stroke-width="0.4">80</text>
<text font-size="9.941" transform="translate(98.20,420.33) scale(1.0000,1)" fill="#111" stroke="#111" stroke-width="0.4">Hours</text>
<text font-size="9.627" transform="translate(16.94,399.79) rotate(-90) scale(1.0000,1)" fill="#111" stroke="#111" stroke-width="0.4">Total Number of Cells</text>
<text font-size="9.634" transform="translate(26.68,375.08) rotate(-90) scale(1.0000,1)" fill="#111" stroke="#111" stroke-width="0.4">(x10,000)</text>
<line x1="52.80" y1="313.50" x2="62.00" y2="313.50" stroke="#000" stroke-width="1.3" stroke-linecap="butt"/>
<circle cx="57.30" cy="313.90" r="2.1525" fill="#000" stroke="none" stroke-width="1"/>
<text font-size="9.198" transform="translate(67.33,317.57) scale(1.0000,1)" fill="#111" stroke="#111" stroke-width="0.15">0 µM</text>
<line x1="52.80" y1="323.50" x2="62.00" y2="323.50" stroke="#000" stroke-width="1.3" stroke-linecap="butt" stroke-dasharray="2.0,1.3"/>
<rect x="55.25" y="321.45" width="4.10" height="4.10" fill="#777" stroke="#000" stroke-width="1.0"/>
<text font-size="8.968" transform="translate(67.34,326.89) scale(1.0000,1)" fill="#111" stroke="#111" stroke-width="0.15">0.1 µM</text>
<line x1="52.80" y1="333.50" x2="62.00" y2="333.50" stroke="#000" stroke-width="1.3" stroke-linecap="butt" stroke-dasharray="2.4,1.2,0.8,1.2"/>
<polygon points="57.30,330.84 59.55,334.94 55.04,334.94" fill="#000" stroke="#000" stroke-width="0.8"/>
<text font-size="8.968" transform="translate(67.34,336.44) scale(1.0000,1)" fill="#111" stroke="#111" stroke-width="0.15">0.5 µM</text>
<line x1="52.80" y1="342.50" x2="62.00" y2="342.50" stroke="#000" stroke-width="1.3" stroke-linecap="butt" stroke-dasharray="2.0,1.3"/>
<polygon points="57.30,345.16 59.55,341.06 55.04,341.06" fill="#000" stroke="#000" stroke-width="0.8"/>
<text font-size="9.075" transform="translate(67.02,346.38) scale(1.0000,1)" fill="#111" stroke="#111" stroke-width="0.15">1.0 µM</text>
<polyline points="44.60,371.50 84.29,363.20 123.98,353.00 163.67,349.20" fill="none" stroke="#000" stroke-width="1.45"/>
<polyline points="44.60,371.50 84.29,363.80 123.98,355.20 163.67,351.60" fill="none" stroke="#000" stroke-width="1.45" stroke-dasharray="2.4,1.4"/>
<polyline points="44.60,371.50 84.29,364.20 123.98,354.40 163.67,351.00" fill="none" stroke="#000" stroke-width="1.45" stroke-dasharray="2.4,1.2,0.8,1.2"/>
<polyline points="44.60,371.50 84.29,364.60 123.98,355.80 163.67,352.40" fill="none" stroke="#000" stroke-width="1.45" stroke-dasharray="2.4,1.4"/>
<line x1="84.50" y1="358.00" x2="84.50" y2="369.40" stroke="#000" stroke-width="1.4" stroke-linecap="butt"/>
<rect x="82.49" y="356.40" width="3.60" height="3.40" fill="#000"/>
<rect x="82.49" y="367.80" width="3.60" height="3.40" fill="#000"/>
<line x1="123.50" y1="345.40" x2="123.50" y2="364.60" stroke="#000" stroke-width="1.4" stroke-linecap="butt"/>
<rect x="122.18" y="343.80" width="3.60" height="3.40" fill="#000"/>
<rect x="122.18" y="363.00" width="3.60" height="3.40" fill="#000"/>
<line x1="163.50" y1="336.70" x2="163.50" y2="365.00" stroke="#000" stroke-width="1.4" stroke-linecap="butt"/>
<rect x="161.87" y="335.10" width="3.60" height="3.40" fill="#000"/>
<rect x="161.87" y="363.40" width="3.60" height="3.40" fill="#000"/>
<rect x="42.40" y="369.30" width="4.40" height="4.40" fill="#000"/>
<rect x="82.09" y="361.50" width="4.40" height="4.40" fill="#000"/>
<rect x="121.78" y="351.60" width="4.40" height="4.40" fill="#000"/>
<rect x="161.47" y="347.40" width="4.40" height="4.40" fill="#000"/>
<rect x="161.67" y="349.60" width="4.00" height="4.00" fill="#000"/>
<line x1="161.87" y1="361.50" x2="165.47" y2="361.50" stroke="#000" stroke-width="1.4" stroke-linecap="butt"/>
<text font-size="12.500" transform="translate(204.70,300.60)" font-weight="bold" fill="#000" stroke="#000" stroke-width="0.4">G</text>
<line x1="233.50" y1="311.10" x2="233.50" y2="388.12" stroke="#1a1a1a" stroke-width="1.25" stroke-linecap="butt"/>
<line x1="231.30" y1="387.50" x2="233.50" y2="387.50" stroke="#1a1a1a" stroke-width="1.25" stroke-linecap="butt"/>
<line x1="231.30" y1="368.50" x2="233.50" y2="368.50" stroke="#1a1a1a" stroke-width="1.25" stroke-linecap="butt"/>
<line x1="231.30" y1="349.50" x2="233.50" y2="349.50" stroke="#1a1a1a" stroke-width="1.25" stroke-linecap="butt"/>
<line x1="231.30" y1="330.50" x2="233.50" y2="330.50" stroke="#1a1a1a" stroke-width="1.25" stroke-linecap="butt"/>
<line x1="231.30" y1="311.50" x2="233.50" y2="311.50" stroke="#1a1a1a" stroke-width="1.25" stroke-linecap="butt"/>
<line x1="233.50" y1="387.50" x2="342.50" y2="387.50" stroke="#1a1a1a" stroke-width="1.25" stroke-linecap="butt"/>
<text font-size="5.900" transform="translate(227.56,390.10) scale(1.000,1)" font-weight="bold" fill="#111" stroke="#111" stroke-width="0.4">0</text>
<text font-size="5.900" transform="translate(224.29,370.90) scale(1.000,1)" font-weight="bold" fill="#111" stroke="#111" stroke-width="0.4">20</text>
<text font-size="5.900" transform="translate(224.29,351.70) scale(1.000,1)" font-weight="bold" fill="#111" stroke="#111" stroke-width="0.4">40</text>
<text font-size="5.900" transform="translate(224.29,332.50) scale(1.000,1)" font-weight="bold" fill="#111" stroke="#111" stroke-width="0.4">60</text>
<text font-size="5.900" transform="translate(224.29,313.30) scale(1.000,1)" font-weight="bold" fill="#111" stroke="#111" stroke-width="0.4">80</text>
<line x1="246.50" y1="377.80" x2="246.50" y2="380.60" stroke="#000" stroke-width="1.25" stroke-linecap="butt"/>
<line x1="242.10" y1="377.50" x2="251.10" y2="377.50" stroke="#000" stroke-width="1.25" stroke-linecap="butt"/>
<rect x="238.00" y="380.90" width="17.20" height="7.00" fill="#808080" stroke="#000" stroke-width="1.6"/>
<line x1="246.50" y1="387.90" x2="246.50" y2="390.30" stroke="#1a1a1a" stroke-width="1.2" stroke-linecap="butt"/>
<line x1="273.50" y1="377.80" x2="273.50" y2="380.60" stroke="#000" stroke-width="1.25" stroke-linecap="butt"/>
<line x1="269.45" y1="377.50" x2="278.45" y2="377.50" stroke="#000" stroke-width="1.25" stroke-linecap="butt"/>
<rect x="265.40" y="380.90" width="17.10" height="7.00" fill="#808080" stroke="#000" stroke-width="1.6"/>
<line x1="273.50" y1="387.90" x2="273.50" y2="390.30" stroke="#1a1a1a" stroke-width="1.2" stroke-linecap="butt"/>
<line x1="301.50" y1="374.80" x2="301.50" y2="378.00" stroke="#000" stroke-width="1.25" stroke-linecap="butt"/>
<line x1="296.75" y1="374.50" x2="305.75" y2="374.50" stroke="#000" stroke-width="1.25" stroke-linecap="butt"/>
<rect x="292.80" y="378.30" width="16.90" height="9.60" fill="#808080" stroke="#000" stroke-width="1.6"/>
<line x1="301.50" y1="387.90" x2="301.50" y2="390.30" stroke="#1a1a1a" stroke-width="1.2" stroke-linecap="butt"/>
<line x1="328.50" y1="372.90" x2="328.50" y2="376.50" stroke="#000" stroke-width="1.25" stroke-linecap="butt"/>
<line x1="323.85" y1="372.50" x2="332.85" y2="372.50" stroke="#000" stroke-width="1.25" stroke-linecap="butt"/>
<rect x="319.90" y="376.80" width="16.90" height="11.10" fill="#808080" stroke="#000" stroke-width="1.6"/>
<line x1="328.50" y1="387.90" x2="328.50" y2="390.30" stroke="#1a1a1a" stroke-width="1.2" stroke-linecap="butt"/>
<text font-size="8.902" transform="translate(219.23,386.51) rotate(-90) scale(1.0000,1)" fill="#111" stroke="#111" stroke-width="0.4">% Annexin Positive</text>
<text font-size="8.100" transform="translate(248.90,395.60) rotate(-45)" font-weight="bold" text-anchor="end" fill="#111">0 µM</text>
<text font-size="8.100" transform="translate(275.90,395.60) rotate(-45)" font-weight="bold" text-anchor="end" fill="#111">0.1 µM</text>
<text font-size="8.100" transform="translate(303.30,395.60) rotate(-45)" font-weight="bold" text-anchor="end" fill="#111">0.5 µM</text>
<text font-size="8.100" transform="translate(330.00,395.60) rotate(-45)" font-weight="bold" text-anchor="end" fill="#111">1.0 µM</text>
<text font-size="9.075" transform="translate(239.65,423.34) scale(1.0000,1)" fill="#111" stroke="#111" stroke-width="0.4">AZD1480 concentration</text>
<text font-size="12.500" transform="translate(370.99,300.80)" font-weight="bold" fill="#000" stroke="#000" stroke-width="0.4">H</text>
<line x1="402.50" y1="320.30" x2="402.50" y2="391.12" stroke="#1a1a1a" stroke-width="1.25" stroke-linecap="butt"/>
<line x1="400.50" y1="390.50" x2="402.50" y2="390.50" stroke="#1a1a1a" stroke-width="1.25" stroke-linecap="butt"/>
<line x1="400.50" y1="376.50" x2="402.50" y2="376.50" stroke="#1a1a1a" stroke-width="1.25" stroke-linecap="butt"/>
<line x1="400.50" y1="362.50" x2="402.50" y2="362.50" stroke="#1a1a1a" stroke-width="1.25" stroke-linecap="butt"/>
<line x1="400.50" y1="349.50" x2="402.50" y2="349.50" stroke="#1a1a1a" stroke-width="1.25" stroke-linecap="butt"/>
<line x1="400.50" y1="335.50" x2="402.50" y2="335.50" stroke="#1a1a1a" stroke-width="1.25" stroke-linecap="butt"/>
<line x1="400.50" y1="321.50" x2="402.50" y2="321.50" stroke="#1a1a1a" stroke-width="1.25" stroke-linecap="butt"/>
<line x1="402.90" y1="390.50" x2="507.50" y2="390.50" stroke="#1a1a1a" stroke-width="1.25" stroke-linecap="butt"/>
<text font-size="5.400" transform="translate(396.68,392.30) scale(1.050,1)" font-weight="bold" fill="#111" stroke="#111" stroke-width="0.4">0</text>
<text font-size="5.400" transform="translate(393.53,378.50) scale(1.050,1)" font-weight="bold" fill="#111" stroke="#111" stroke-width="0.4">20</text>
<text font-size="5.400" transform="translate(393.53,364.70) scale(1.050,1)" font-weight="bold" fill="#111" stroke="#111" stroke-width="0.4">40</text>
<text font-size="5.400" transform="translate(393.53,350.90) scale(1.050,1)" font-weight="bold" fill="#111" stroke="#111" stroke-width="0.4">60</text>
<text font-size="5.400" transform="translate(393.53,337.10) scale(1.050,1)" font-weight="bold" fill="#111" stroke="#111" stroke-width="0.4">80</text>
<text font-size="5.400" transform="translate(390.39,323.30) scale(1.050,1)" font-weight="bold" fill="#111" stroke="#111" stroke-width="0.4">100</text>
<line x1="415.50" y1="340.80" x2="415.50" y2="344.70" stroke="#000" stroke-width="1.25" stroke-linecap="butt"/>
<line x1="411.65" y1="340.50" x2="420.15" y2="340.50" stroke="#000" stroke-width="1.25" stroke-linecap="butt"/>
<rect x="407.50" y="345.00" width="16.80" height="45.40" fill="#808080" stroke="#000" stroke-width="1.6"/>
<line x1="415.50" y1="390.40" x2="415.50" y2="392.80" stroke="#1a1a1a" stroke-width="1.2" stroke-linecap="butt"/>
<line x1="442.50" y1="340.80" x2="442.50" y2="347.00" stroke="#000" stroke-width="1.25" stroke-linecap="butt"/>
<line x1="437.75" y1="340.50" x2="446.25" y2="340.50" stroke="#000" stroke-width="1.25" stroke-linecap="butt"/>
<rect x="433.70" y="347.30" width="16.60" height="43.10" fill="#808080" stroke="#000" stroke-width="1.6"/>
<line x1="442.50" y1="390.40" x2="442.50" y2="392.80" stroke="#1a1a1a" stroke-width="1.2" stroke-linecap="butt"/>
<line x1="468.50" y1="345.20" x2="468.50" y2="349.10" stroke="#000" stroke-width="1.25" stroke-linecap="butt"/>
<line x1="463.80" y1="345.50" x2="472.30" y2="345.50" stroke="#000" stroke-width="1.25" stroke-linecap="butt"/>
<rect x="459.80" y="349.40" width="16.50" height="41.00" fill="#808080" stroke="#000" stroke-width="1.6"/>
<line x1="468.50" y1="390.40" x2="468.50" y2="392.80" stroke="#1a1a1a" stroke-width="1.2" stroke-linecap="butt"/>
<line x1="494.50" y1="347.90" x2="494.50" y2="350.70" stroke="#000" stroke-width="1.25" stroke-linecap="butt"/>
<line x1="489.80" y1="347.50" x2="498.30" y2="347.50" stroke="#000" stroke-width="1.25" stroke-linecap="butt"/>
<rect x="486.00" y="351.00" width="16.10" height="39.40" fill="#808080" stroke="#000" stroke-width="1.6"/>
<line x1="494.50" y1="390.40" x2="494.50" y2="392.80" stroke="#1a1a1a" stroke-width="1.2" stroke-linecap="butt"/>
<text font-size="8.688" transform="translate(388.41,407.63) rotate(-90) scale(1.0000,1)" fill="#111" stroke="#111" stroke-width="0.4">Colonies/1000 CD34+ cells</text>
<text font-size="8.000" transform="translate(418.40,399.00) rotate(-45)" font-weight="bold" text-anchor="end" fill="#111" stroke="#111" stroke-width="0.1">0 µM</text>
<text font-size="8.000" transform="translate(443.40,399.00) rotate(-45)" font-weight="bold" text-anchor="end" fill="#111" stroke="#111" stroke-width="0.1">0.1 µM</text>
<text font-size="8.000" transform="translate(469.70,399.00) rotate(-45)" font-weight="bold" text-anchor="end" fill="#111" stroke="#111" stroke-width="0.1">0.5 µM</text>
<text font-size="8.000" transform="translate(495.80,399.00) rotate(-45)" font-weight="bold" text-anchor="end" fill="#111" stroke="#111" stroke-width="0.1">1.0 µM</text>
<text font-size="8.836" transform="translate(408.36,424.50) scale(1.0000,1)" fill="#111" stroke="#111" stroke-width="0.4">AZD1480 concentration</text>
<text font-size="12.500" transform="translate(0.58,450.50)" font-weight="bold" fill="#000" stroke="#000" stroke-width="0.4">I</text>
<line x1="30.50" y1="471.60" x2="30.50" y2="551.08" stroke="#1a1a1a" stroke-width="1.15" stroke-linecap="butt"/>
<line x1="28.50" y1="550.50" x2="30.50" y2="550.50" stroke="#1a1a1a" stroke-width="1.15" stroke-linecap="butt"/>
<line x1="28.50" y1="523.50" x2="30.50" y2="523.50" stroke="#1a1a1a" stroke-width="1.15" stroke-linecap="butt"/>
<line x1="28.50" y1="497.50" x2="30.50" y2="497.50" stroke="#1a1a1a" stroke-width="1.15" stroke-linecap="butt"/>
<line x1="28.50" y1="471.50" x2="30.50" y2="471.50" stroke="#1a1a1a" stroke-width="1.15" stroke-linecap="butt"/>
<line x1="30.80" y1="550.50" x2="114.10" y2="550.50" stroke="#1a1a1a" stroke-width="1.2" stroke-linecap="butt"/>
<text font-size="6.600" transform="translate(24.30,552.10) scale(1.000,1)" fill="#111" stroke="#111" stroke-width="0.4">0</text>
<text font-size="6.600" transform="translate(20.64,525.97) scale(1.000,1)" fill="#111" stroke="#111" stroke-width="0.4">10</text>
<text font-size="6.600" transform="translate(20.64,499.83) scale(1.000,1)" fill="#111" stroke="#111" stroke-width="0.4">20</text>
<text font-size="6.600" transform="translate(20.64,473.70) scale(1.000,1)" fill="#111" stroke="#111" stroke-width="0.4">30</text>
<line x1="41.50" y1="473.60" x2="41.50" y2="477.70" stroke="#000" stroke-width="1.25" stroke-linecap="butt"/>
<line x1="37.98" y1="473.50" x2="44.98" y2="473.50" stroke="#000" stroke-width="1.25" stroke-linecap="butt"/>
<rect x="35.05" y="478.00" width="12.85" height="72.00" fill="#808080" stroke="#000" stroke-width="1.6"/>
<line x1="41.50" y1="550.00" x2="41.50" y2="552.40" stroke="#1a1a1a" stroke-width="1.2" stroke-linecap="butt"/>
<line x1="62.50" y1="488.50" x2="62.50" y2="492.80" stroke="#000" stroke-width="1.25" stroke-linecap="butt"/>
<line x1="59.00" y1="488.50" x2="66.00" y2="488.50" stroke="#000" stroke-width="1.25" stroke-linecap="butt"/>
<rect x="56.00" y="493.10" width="13.00" height="56.90" fill="#808080" stroke="#000" stroke-width="1.6"/>
<line x1="62.50" y1="550.00" x2="62.50" y2="552.40" stroke="#1a1a1a" stroke-width="1.2" stroke-linecap="butt"/>
<line x1="83.50" y1="498.40" x2="83.50" y2="502.90" stroke="#000" stroke-width="1.25" stroke-linecap="butt"/>
<line x1="79.65" y1="498.50" x2="86.65" y2="498.50" stroke="#000" stroke-width="1.25" stroke-linecap="butt"/>
<rect x="76.80" y="503.20" width="12.70" height="46.80" fill="#808080" stroke="#000" stroke-width="1.6"/>
<line x1="83.50" y1="550.00" x2="83.50" y2="552.40" stroke="#1a1a1a" stroke-width="1.2" stroke-linecap="butt"/>
<line x1="104.50" y1="502.00" x2="104.50" y2="509.10" stroke="#000" stroke-width="1.25" stroke-linecap="butt"/>
<line x1="100.95" y1="502.50" x2="107.95" y2="502.50" stroke="#000" stroke-width="1.25" stroke-linecap="butt"/>
<rect x="98.10" y="509.40" width="12.70" height="40.60" fill="#808080" stroke="#000" stroke-width="1.6"/>
<line x1="104.50" y1="550.00" x2="104.50" y2="552.40" stroke="#1a1a1a" stroke-width="1.2" stroke-linecap="butt"/>
<text font-size="9.000" transform="translate(43.68,557.70) rotate(-45)" text-anchor="end" fill="#111" stroke="#111" stroke-width="0.3">0 µM</text>
<text font-size="9.000" transform="translate(64.70,557.70) rotate(-45)" text-anchor="end" fill="#111" stroke="#111" stroke-width="0.3">0.1 µM</text>
<text font-size="9.000" transform="translate(85.35,557.70) rotate(-45)" text-anchor="end" fill="#111" stroke="#111" stroke-width="0.3">0.5 µM</text>
<text font-size="9.000" transform="translate(106.65,557.70) rotate(-45)" text-anchor="end" fill="#111" stroke="#111" stroke-width="0.3">1 µM</text>
<line x1="41.50" y1="457.50" x2="106.50" y2="457.50" stroke="#1a1a1a" stroke-width="1.2" stroke-linecap="butt"/>
<line x1="41.50" y1="455.20" x2="41.50" y2="459.80" stroke="#1a1a1a" stroke-width="1.2" stroke-linecap="butt"/>
<line x1="106.50" y1="455.20" x2="106.50" y2="459.80" stroke="#1a1a1a" stroke-width="1.2" stroke-linecap="butt"/>
<line x1="41.50" y1="463.50" x2="83.80" y2="463.50" stroke="#1a1a1a" stroke-width="1.2" stroke-linecap="butt"/>
<line x1="41.50" y1="461.10" x2="41.50" y2="465.70" stroke="#1a1a1a" stroke-width="1.2" stroke-linecap="butt"/>
<line x1="83.50" y1="461.10" x2="83.50" y2="465.70" stroke="#1a1a1a" stroke-width="1.2" stroke-linecap="butt"/>
<line x1="41.50" y1="469.50" x2="65.00" y2="469.50" stroke="#1a1a1a" stroke-width="1.2" stroke-linecap="butt"/>
<line x1="41.50" y1="467.00" x2="41.50" y2="471.60" stroke="#1a1a1a" stroke-width="1.2" stroke-linecap="butt"/>
<line x1="65.50" y1="467.00" x2="65.50" y2="471.60" stroke="#1a1a1a" stroke-width="1.2" stroke-linecap="butt"/>
<polygon points="73.70,452.58 74.28,453.58 75.41,453.82 74.64,454.69 74.76,455.84 73.70,455.37 72.64,455.84 72.76,454.69 71.99,453.82 73.12,453.58" fill="#111" stroke="#111" stroke-width="0.45"/>
<polygon points="78.30,452.58 78.88,453.58 80.01,453.82 79.24,454.69 79.36,455.84 78.30,455.37 77.24,455.84 77.36,454.69 76.59,453.82 77.72,453.58" fill="#111" stroke="#111" stroke-width="0.45"/>
<polygon points="63.80,459.38 64.38,460.38 65.51,460.62 64.74,461.49 64.86,462.64 63.80,462.17 62.74,462.64 62.86,461.49 62.09,460.62 63.22,460.38" fill="#111" stroke="#111" stroke-width="0.45"/>
<polygon points="68.40,459.38 68.98,460.38 70.11,460.62 69.34,461.49 69.46,462.64 68.40,462.17 67.34,462.64 67.46,461.49 66.69,460.62 67.82,460.38" fill="#111" stroke="#111" stroke-width="0.45"/>
<polygon points="56.70,464.78 57.28,465.78 58.41,466.02 57.64,466.89 57.76,468.04 56.70,467.57 55.64,468.04 55.76,466.89 54.99,466.02 56.12,465.78" fill="#111" stroke="#111" stroke-width="0.45"/>
<text font-size="7.648" transform="translate(6.03,543.48) rotate(-90) scale(1.0000,1)" font-weight="bold" fill="#111">Total Cell Number</text>
<text font-size="8.470" transform="translate(16.78,529.41) rotate(-90) scale(1.0000,1)" fill="#111" stroke="#111" stroke-width="0.4">(x 10,000)</text>
<text font-size="8.786" transform="translate(30.21,584.38) scale(1.0000,1)" fill="#111" stroke="#111" stroke-width="0.25">INC424 concentration</text>
<text font-size="12.500" transform="translate(138.11,450.70)" font-weight="bold" fill="#000" stroke="#000" stroke-width="0.4">J</text>
<line x1="158.50" y1="470.80" x2="158.50" y2="549.08" stroke="#1a1a1a" stroke-width="1.15" stroke-linecap="butt"/>
<line x1="156.50" y1="548.50" x2="158.50" y2="548.50" stroke="#1a1a1a" stroke-width="1.15" stroke-linecap="butt"/>
<line x1="156.50" y1="522.50" x2="158.50" y2="522.50" stroke="#1a1a1a" stroke-width="1.15" stroke-linecap="butt"/>
<line x1="156.50" y1="496.50" x2="158.50" y2="496.50" stroke="#1a1a1a" stroke-width="1.15" stroke-linecap="butt"/>
<line x1="156.50" y1="470.50" x2="158.50" y2="470.50" stroke="#1a1a1a" stroke-width="1.15" stroke-linecap="butt"/>
<line x1="158.80" y1="548.50" x2="239.00" y2="548.50" stroke="#1a1a1a" stroke-width="1.2" stroke-linecap="butt"/>
<text font-size="6.600" transform="translate(152.40,550.95) scale(1.000,1)" fill="#111" stroke="#111" stroke-width="0.4">0</text>
<text font-size="6.600" transform="translate(148.74,524.93) scale(1.000,1)" fill="#111" stroke="#111" stroke-width="0.4">10</text>
<text font-size="6.600" transform="translate(148.74,498.92) scale(1.000,1)" fill="#111" stroke="#111" stroke-width="0.4">20</text>
<text font-size="6.600" transform="translate(148.74,472.90) scale(1.000,1)" fill="#111" stroke="#111" stroke-width="0.4">30</text>
<line x1="168.50" y1="521.80" x2="168.50" y2="525.40" stroke="#000" stroke-width="1.25" stroke-linecap="butt"/>
<line x1="165.30" y1="521.50" x2="172.30" y2="521.50" stroke="#000" stroke-width="1.25" stroke-linecap="butt"/>
<rect x="162.60" y="525.70" width="12.40" height="23.15" fill="#808080" stroke="#000" stroke-width="1.6"/>
<line x1="168.50" y1="548.85" x2="168.50" y2="551.25" stroke="#1a1a1a" stroke-width="1.2" stroke-linecap="butt"/>
<line x1="189.50" y1="507.20" x2="189.50" y2="511.00" stroke="#000" stroke-width="1.25" stroke-linecap="butt"/>
<line x1="185.50" y1="507.50" x2="192.50" y2="507.50" stroke="#000" stroke-width="1.25" stroke-linecap="butt"/>
<rect x="182.90" y="511.30" width="12.20" height="37.55" fill="#808080" stroke="#000" stroke-width="1.6"/>
<line x1="189.50" y1="548.85" x2="189.50" y2="551.25" stroke="#1a1a1a" stroke-width="1.2" stroke-linecap="butt"/>
<line x1="209.50" y1="492.50" x2="209.50" y2="496.80" stroke="#000" stroke-width="1.25" stroke-linecap="butt"/>
<line x1="205.90" y1="492.50" x2="212.90" y2="492.50" stroke="#000" stroke-width="1.25" stroke-linecap="butt"/>
<rect x="203.00" y="497.10" width="12.80" height="51.75" fill="#808080" stroke="#000" stroke-width="1.6"/>
<line x1="209.50" y1="548.85" x2="209.50" y2="551.25" stroke="#1a1a1a" stroke-width="1.2" stroke-linecap="butt"/>
<line x1="229.50" y1="482.10" x2="229.50" y2="486.10" stroke="#000" stroke-width="1.25" stroke-linecap="butt"/>
<line x1="225.90" y1="482.50" x2="232.90" y2="482.50" stroke="#000" stroke-width="1.25" stroke-linecap="butt"/>
<rect x="223.10" y="486.40" width="12.60" height="62.45" fill="#808080" stroke="#000" stroke-width="1.6"/>
<line x1="229.50" y1="548.85" x2="229.50" y2="551.25" stroke="#1a1a1a" stroke-width="1.2" stroke-linecap="butt"/>
<text font-size="9.000" transform="translate(171.00,556.55) rotate(-45)" text-anchor="end" fill="#111" stroke="#111" stroke-width="0.3">0 µM</text>
<text font-size="9.000" transform="translate(191.20,556.55) rotate(-45)" text-anchor="end" fill="#111" stroke="#111" stroke-width="0.3">0.1 µM</text>
<text font-size="9.000" transform="translate(211.60,556.55) rotate(-45)" text-anchor="end" fill="#111" stroke="#111" stroke-width="0.3">0.5 µM</text>
<text font-size="9.000" transform="translate(231.60,556.55) rotate(-45)" text-anchor="end" fill="#111" stroke="#111" stroke-width="0.3">1 µM</text>
<line x1="166.80" y1="473.50" x2="229.20" y2="473.50" stroke="#1a1a1a" stroke-width="1.2" stroke-linecap="butt"/>
<line x1="166.50" y1="470.70" x2="166.50" y2="475.30" stroke="#1a1a1a" stroke-width="1.2" stroke-linecap="butt"/>
<line x1="229.50" y1="470.70" x2="229.50" y2="475.30" stroke="#1a1a1a" stroke-width="1.2" stroke-linecap="butt"/>
<line x1="166.80" y1="480.50" x2="209.70" y2="480.50" stroke="#1a1a1a" stroke-width="1.2" stroke-linecap="butt"/>
<line x1="166.50" y1="478.10" x2="166.50" y2="482.70" stroke="#1a1a1a" stroke-width="1.2" stroke-linecap="butt"/>
<line x1="209.50" y1="478.10" x2="209.50" y2="482.70" stroke="#1a1a1a" stroke-width="1.2" stroke-linecap="butt"/>
<line x1="166.80" y1="486.50" x2="190.10" y2="486.50" stroke="#1a1a1a" stroke-width="1.2" stroke-linecap="butt"/>
<line x1="166.50" y1="484.50" x2="166.50" y2="489.10" stroke="#1a1a1a" stroke-width="1.2" stroke-linecap="butt"/>
<line x1="190.50" y1="484.50" x2="190.50" y2="489.10" stroke="#1a1a1a" stroke-width="1.2" stroke-linecap="butt"/>
<polygon points="201.10,468.08 201.68,469.08 202.81,469.32 202.04,470.19 202.16,471.34 201.10,470.87 200.04,471.34 200.16,470.19 199.39,469.32 200.52,469.08" fill="#111" stroke="#111" stroke-width="0.45"/>
<polygon points="205.90,468.08 206.48,469.08 207.61,469.32 206.84,470.19 206.96,471.34 205.90,470.87 204.84,471.34 204.96,470.19 204.19,469.32 205.32,469.08" fill="#111" stroke="#111" stroke-width="0.45"/>
<polygon points="190.10,475.58 190.68,476.58 191.81,476.82 191.04,477.69 191.16,478.84 190.10,478.37 189.04,478.84 189.16,477.69 188.39,476.82 189.52,476.58" fill="#111" stroke="#111" stroke-width="0.45"/>
<polygon points="194.90,475.58 195.48,476.58 196.61,476.82 195.84,477.69 195.96,478.84 194.90,478.37 193.84,478.84 193.96,477.69 193.19,476.82 194.32,476.58" fill="#111" stroke="#111" stroke-width="0.45"/>
<polygon points="178.00,482.08 178.58,483.08 179.71,483.32 178.94,484.19 179.06,485.34 178.00,484.87 176.94,485.34 177.06,484.19 176.29,483.32 177.42,483.08" fill="#111" stroke="#111" stroke-width="0.45"/>
<polygon points="182.80,482.08 183.38,483.08 184.51,483.32 183.74,484.19 183.86,485.34 182.80,484.87 181.74,485.34 181.86,484.19 181.09,483.32 182.22,483.08" fill="#111" stroke="#111" stroke-width="0.45"/>
<text font-size="8.202" transform="translate(144.63,543.49) rotate(-90) scale(1.0000,1)" fill="#111" stroke="#111" stroke-width="0.4">% Annexin Positive</text>
<text font-size="8.933" transform="translate(156.50,583.24) scale(1.0000,1)" fill="#111" stroke="#111" stroke-width="0.25">INC424 concentration</text>
<text font-size="12.500" transform="translate(265.09,450.70)" font-weight="bold" fill="#000" stroke="#000" stroke-width="0.4">K</text>
<line x1="295.50" y1="470.80" x2="295.50" y2="549.08" stroke="#1a1a1a" stroke-width="1.15" stroke-linecap="butt"/>
<line x1="293.50" y1="548.50" x2="295.50" y2="548.50" stroke="#1a1a1a" stroke-width="1.15" stroke-linecap="butt"/>
<line x1="293.50" y1="522.50" x2="295.50" y2="522.50" stroke="#1a1a1a" stroke-width="1.15" stroke-linecap="butt"/>
<line x1="293.50" y1="496.50" x2="295.50" y2="496.50" stroke="#1a1a1a" stroke-width="1.15" stroke-linecap="butt"/>
<line x1="293.50" y1="470.50" x2="295.50" y2="470.50" stroke="#1a1a1a" stroke-width="1.15" stroke-linecap="butt"/>
<line x1="295.90" y1="548.50" x2="384.80" y2="548.50" stroke="#1a1a1a" stroke-width="1.2" stroke-linecap="butt"/>
<text font-size="6.600" transform="translate(289.50,550.60) scale(1.000,1)" fill="#111" stroke="#111" stroke-width="0.4">0</text>
<text font-size="6.600" transform="translate(285.84,524.70) scale(1.000,1)" fill="#111" stroke="#111" stroke-width="0.4">10</text>
<text font-size="6.600" transform="translate(285.84,498.80) scale(1.000,1)" fill="#111" stroke="#111" stroke-width="0.4">20</text>
<text font-size="6.600" transform="translate(285.84,472.90) scale(1.000,1)" fill="#111" stroke="#111" stroke-width="0.4">30</text>
<line x1="307.50" y1="473.10" x2="307.50" y2="476.20" stroke="#000" stroke-width="1.25" stroke-linecap="butt"/>
<line x1="303.75" y1="473.50" x2="310.75" y2="473.50" stroke="#000" stroke-width="1.25" stroke-linecap="butt"/>
<rect x="300.10" y="476.50" width="14.30" height="72.00" fill="#808080" stroke="#000" stroke-width="1.6"/>
<line x1="307.50" y1="548.50" x2="307.50" y2="550.90" stroke="#1a1a1a" stroke-width="1.2" stroke-linecap="butt"/>
<line x1="329.50" y1="478.80" x2="329.50" y2="481.50" stroke="#000" stroke-width="1.25" stroke-linecap="butt"/>
<line x1="326.45" y1="478.50" x2="333.45" y2="478.50" stroke="#000" stroke-width="1.25" stroke-linecap="butt"/>
<rect x="322.90" y="481.80" width="14.10" height="66.70" fill="#808080" stroke="#000" stroke-width="1.6"/>
<line x1="329.50" y1="548.50" x2="329.50" y2="550.90" stroke="#1a1a1a" stroke-width="1.2" stroke-linecap="butt"/>
<line x1="351.50" y1="484.90" x2="351.50" y2="489.80" stroke="#000" stroke-width="1.25" stroke-linecap="butt"/>
<line x1="348.35" y1="484.50" x2="355.35" y2="484.50" stroke="#000" stroke-width="1.25" stroke-linecap="butt"/>
<rect x="344.80" y="490.10" width="14.10" height="58.40" fill="#808080" stroke="#000" stroke-width="1.6"/>
<line x1="351.50" y1="548.50" x2="351.50" y2="550.90" stroke="#1a1a1a" stroke-width="1.2" stroke-linecap="butt"/>
<line x1="374.50" y1="498.40" x2="374.50" y2="502.50" stroke="#000" stroke-width="1.25" stroke-linecap="butt"/>
<line x1="370.75" y1="498.50" x2="377.75" y2="498.50" stroke="#000" stroke-width="1.25" stroke-linecap="butt"/>
<rect x="367.00" y="502.80" width="14.50" height="45.70" fill="#808080" stroke="#000" stroke-width="1.6"/>
<line x1="374.50" y1="548.50" x2="374.50" y2="550.90" stroke="#1a1a1a" stroke-width="1.2" stroke-linecap="butt"/>
<text font-size="9.000" transform="translate(309.45,556.20) rotate(-45)" text-anchor="end" fill="#111" stroke="#111" stroke-width="0.3">0 µM</text>
<text font-size="9.000" transform="translate(332.15,556.20) rotate(-45)" text-anchor="end" fill="#111" stroke="#111" stroke-width="0.3">0.1 µM</text>
<text font-size="9.000" transform="translate(354.05,556.20) rotate(-45)" text-anchor="end" fill="#111" stroke="#111" stroke-width="0.3">0.5 µM</text>
<text font-size="9.000" transform="translate(376.45,556.20) rotate(-45)" text-anchor="end" fill="#111" stroke="#111" stroke-width="0.3">1 µM</text>
<line x1="306.30" y1="464.50" x2="374.30" y2="464.50" stroke="#1a1a1a" stroke-width="1.2" stroke-linecap="butt"/>
<line x1="306.50" y1="462.30" x2="306.50" y2="466.90" stroke="#1a1a1a" stroke-width="1.2" stroke-linecap="butt"/>
<line x1="374.50" y1="462.30" x2="374.50" y2="466.90" stroke="#1a1a1a" stroke-width="1.2" stroke-linecap="butt"/>
<polygon points="340.60,460.08 341.18,461.08 342.31,461.32 341.54,462.19 341.66,463.34 340.60,462.87 339.54,463.34 339.66,462.19 338.89,461.32 340.02,461.08" fill="#111" stroke="#111" stroke-width="0.45"/>
<text font-size="7.825" transform="translate(270.95,542.68) rotate(-90) scale(1.0000,1)" font-weight="bold" fill="#111">Total Cell Number</text>
<text font-size="8.707" transform="translate(279.94,527.92) rotate(-90) scale(1.0000,1)" fill="#111" stroke="#111" stroke-width="0.4">(x10,000)</text>
<text font-size="8.671" transform="translate(299.42,583.49) scale(1.0000,1)" fill="#111" stroke="#111" stroke-width="0.25">INC424 concentration</text>
<text font-size="12.500" transform="translate(408.59,450.70)" font-weight="bold" fill="#000" stroke="#000" stroke-width="0.4">L</text>
<line x1="431.50" y1="470.70" x2="431.50" y2="549.08" stroke="#1a1a1a" stroke-width="1.15" stroke-linecap="butt"/>
<line x1="429.50" y1="548.50" x2="431.50" y2="548.50" stroke="#1a1a1a" stroke-width="1.15" stroke-linecap="butt"/>
<line x1="429.50" y1="522.50" x2="431.50" y2="522.50" stroke="#1a1a1a" stroke-width="1.15" stroke-linecap="butt"/>
<line x1="429.50" y1="496.50" x2="431.50" y2="496.50" stroke="#1a1a1a" stroke-width="1.15" stroke-linecap="butt"/>
<line x1="429.50" y1="470.50" x2="431.50" y2="470.50" stroke="#1a1a1a" stroke-width="1.15" stroke-linecap="butt"/>
<line x1="431.00" y1="548.50" x2="518.70" y2="548.50" stroke="#1a1a1a" stroke-width="1.2" stroke-linecap="butt"/>
<text font-size="6.600" transform="translate(424.30,550.80) scale(1.000,1)" fill="#111" stroke="#111" stroke-width="0.4">0</text>
<text font-size="6.600" transform="translate(420.64,524.80) scale(1.000,1)" fill="#111" stroke="#111" stroke-width="0.4">10</text>
<text font-size="6.600" transform="translate(420.64,498.80) scale(1.000,1)" fill="#111" stroke="#111" stroke-width="0.4">20</text>
<text font-size="6.600" transform="translate(420.64,472.80) scale(1.000,1)" fill="#111" stroke="#111" stroke-width="0.4">30</text>
<line x1="442.50" y1="527.70" x2="442.50" y2="531.80" stroke="#000" stroke-width="1.25" stroke-linecap="butt"/>
<line x1="438.55" y1="527.50" x2="445.55" y2="527.50" stroke="#000" stroke-width="1.25" stroke-linecap="butt"/>
<rect x="435.20" y="532.10" width="13.70" height="16.60" fill="#808080" stroke="#000" stroke-width="1.6"/>
<line x1="442.50" y1="548.70" x2="442.50" y2="551.10" stroke="#1a1a1a" stroke-width="1.2" stroke-linecap="butt"/>
<line x1="464.50" y1="522.00" x2="464.50" y2="526.60" stroke="#000" stroke-width="1.25" stroke-linecap="butt"/>
<line x1="460.80" y1="522.50" x2="467.80" y2="522.50" stroke="#000" stroke-width="1.25" stroke-linecap="butt"/>
<rect x="457.50" y="526.90" width="13.60" height="21.80" fill="#808080" stroke="#000" stroke-width="1.6"/>
<line x1="464.50" y1="548.70" x2="464.50" y2="551.10" stroke="#1a1a1a" stroke-width="1.2" stroke-linecap="butt"/>
<line x1="485.50" y1="515.20" x2="485.50" y2="519.90" stroke="#000" stroke-width="1.25" stroke-linecap="butt"/>
<line x1="482.40" y1="515.50" x2="489.40" y2="515.50" stroke="#000" stroke-width="1.25" stroke-linecap="butt"/>
<rect x="478.90" y="520.20" width="14.00" height="28.50" fill="#808080" stroke="#000" stroke-width="1.6"/>
<line x1="485.50" y1="548.70" x2="485.50" y2="551.10" stroke="#1a1a1a" stroke-width="1.2" stroke-linecap="butt"/>
<line x1="508.50" y1="506.00" x2="508.50" y2="509.90" stroke="#000" stroke-width="1.25" stroke-linecap="butt"/>
<line x1="504.80" y1="506.50" x2="511.80" y2="506.50" stroke="#000" stroke-width="1.25" stroke-linecap="butt"/>
<rect x="501.20" y="510.20" width="14.20" height="38.50" fill="#808080" stroke="#000" stroke-width="1.6"/>
<line x1="508.50" y1="548.70" x2="508.50" y2="551.10" stroke="#1a1a1a" stroke-width="1.2" stroke-linecap="butt"/>
<text font-size="9.000" transform="translate(444.25,556.40) rotate(-45)" text-anchor="end" fill="#111" stroke="#111" stroke-width="0.3">0 µM</text>
<text font-size="9.000" transform="translate(466.50,556.40) rotate(-45)" text-anchor="end" fill="#111" stroke="#111" stroke-width="0.3">0.1 µM</text>
<text font-size="9.000" transform="translate(488.10,556.40) rotate(-45)" text-anchor="end" fill="#111" stroke="#111" stroke-width="0.3">0.5 µM</text>
<text font-size="9.000" transform="translate(510.50,556.40) rotate(-45)" text-anchor="end" fill="#111" stroke="#111" stroke-width="0.3">1 µM</text>
<line x1="443.90" y1="497.50" x2="509.40" y2="497.50" stroke="#1a1a1a" stroke-width="1.2" stroke-linecap="butt"/>
<line x1="443.50" y1="495.40" x2="443.50" y2="500.00" stroke="#1a1a1a" stroke-width="1.2" stroke-linecap="butt"/>
<line x1="509.50" y1="495.40" x2="509.50" y2="500.00" stroke="#1a1a1a" stroke-width="1.2" stroke-linecap="butt"/>
<polygon points="472.40,491.28 472.98,492.28 474.11,492.52 473.34,493.39 473.46,494.54 472.40,494.07 471.34,494.54 471.46,493.39 470.69,492.52 471.82,492.28" fill="#111" stroke="#111" stroke-width="0.45"/>
<polygon points="477.20,491.28 477.78,492.28 478.91,492.52 478.14,493.39 478.26,494.54 477.20,494.07 476.14,494.54 476.26,493.39 475.49,492.52 476.62,492.28" fill="#111" stroke="#111" stroke-width="0.45"/>
<text font-size="8.510" transform="translate(416.84,545.30) rotate(-90) scale(1.0000,1)" fill="#111" stroke="#111" stroke-width="0.4">% Annexin Positive</text>
<text font-size="8.860" transform="translate(433.00,583.61) scale(1.0000,1)" fill="#111" stroke="#111" stroke-width="0.25">INC424 concentration</text>
</svg>
</body></html>
